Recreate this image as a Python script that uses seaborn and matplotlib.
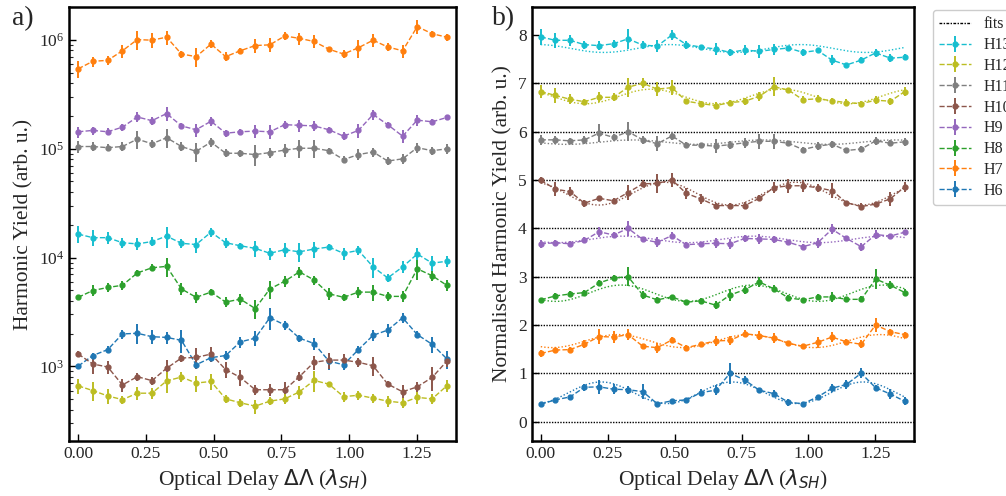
import numpy as np
import matplotlib
matplotlib.use('Agg')
import matplotlib.pyplot as plt
from matplotlib.lines import Line2D
import seaborn as sns

# optical delay (lambda_SH)
delay = [0.0, 0.054, 0.109, 0.163, 0.218, 0.272, 0.326, 0.381, 0.435, 0.490,
         0.544, 0.598, 0.653, 0.707, 0.762, 0.816, 0.870, 0.925, 0.979, 1.034,
         1.088, 1.142, 1.197, 1.251, 1.306, 1.360]

harmonics = ['H6', 'H7', 'H8', 'H9', 'H10', 'H11', 'H12', 'H13']

# peak yield of each harmonic (arb. u.)
peak_yield = [2800, 1.32e6, 8300, 2.1e5, 1300, 1.26e5, 800, 17100]

# yields normalised to the peak
h6_norm = [0.36, 0.45, 0.51, 0.71, 0.72, 0.67, 0.66, 0.62, 0.37, 0.43, 0.45, 0.60, 0.65,
           1.00, 0.86, 0.65, 0.58, 0.40, 0.37, 0.51, 0.69, 0.77, 1.00, 0.70, 0.57, 0.42]
h7_norm = [0.41, 0.48, 0.49, 0.60, 0.76, 0.75, 0.80, 0.56, 0.53, 0.69, 0.53, 0.60, 0.67,
           0.68, 0.82, 0.78, 0.73, 0.62, 0.56, 0.64, 0.75, 0.65, 0.60, 1.00, 0.86, 0.80]
h8_norm = [0.52, 0.60, 0.64, 0.67, 0.87, 0.97, 1.00, 0.62, 0.52, 0.58, 0.47, 0.50, 0.41,
           0.62, 0.73, 0.89, 0.75, 0.56, 0.52, 0.58, 0.58, 0.53, 0.53, 0.95, 0.82, 0.67]
h9_norm = [0.68, 0.70, 0.68, 0.75, 0.93, 0.86, 1.00, 0.77, 0.71, 0.85, 0.66, 0.68, 0.69,
           0.68, 0.79, 0.78, 0.77, 0.71, 0.62, 0.70, 0.98, 0.79, 0.62, 0.87, 0.84, 0.92]
h10_norm = [1.00, 0.81, 0.76, 0.52, 0.62, 0.57, 0.74, 0.92, 0.93, 1.00, 0.72, 0.61, 0.47,
            0.47, 0.47, 0.62, 0.84, 0.88, 0.88, 0.84, 0.78, 0.53, 0.45, 0.50, 0.61, 0.86]
h11_norm = [0.83, 0.83, 0.81, 0.83, 0.97, 0.88, 1.00, 0.83, 0.75, 0.91, 0.72, 0.72, 0.70,
            0.73, 0.77, 0.80, 0.80, 0.76, 0.63, 0.70, 0.74, 0.61, 0.64, 0.81, 0.76, 0.79]
h12_norm = [0.83, 0.75, 0.67, 0.62, 0.71, 0.71, 0.92, 1.00, 0.88, 0.91, 0.63, 0.58, 0.54,
            0.60, 0.63, 0.73, 0.93, 0.86, 0.66, 0.68, 0.64, 0.60, 0.58, 0.65, 0.63, 0.83]
h13_norm = [0.96, 0.89, 0.89, 0.80, 0.78, 0.82, 0.92, 0.79, 0.77, 1.00, 0.80, 0.75, 0.71,
            0.64, 0.69, 0.66, 0.70, 0.73, 0.64, 0.68, 0.48, 0.38, 0.48, 0.63, 0.52, 0.54]

# error bars (same normalisation)
h6_err = [0.02, 0.02, 0.04, 0.07, 0.15, 0.10, 0.08, 0.15, 0.03, 0.04, 0.04, 0.07, 0.10,
          0.22, 0.08, 0.05, 0.07, 0.07, 0.04, 0.04, 0.08, 0.10, 0.10, 0.05, 0.10, 0.08]
h7_err = [0.07, 0.05, 0.05, 0.08, 0.15, 0.12, 0.12, 0.04, 0.10, 0.06, 0.05, 0.04, 0.10,
          0.10, 0.07, 0.10, 0.10, 0.03, 0.05, 0.12, 0.10, 0.05, 0.08, 0.15, 0.06, 0.06]
h8_err = [0.02, 0.07, 0.06, 0.06, 0.06, 0.07, 0.20, 0.08, 0.06, 0.04, 0.05, 0.06, 0.08,
          0.12, 0.08, 0.10, 0.07, 0.07, 0.04, 0.07, 0.10, 0.05, 0.06, 0.20, 0.08, 0.08]
h9_err = [0.08, 0.06, 0.05, 0.06, 0.10, 0.07, 0.15, 0.05, 0.10, 0.08, 0.05, 0.04, 0.10,
          0.10, 0.07, 0.10, 0.08, 0.04, 0.05, 0.10, 0.10, 0.05, 0.08, 0.10, 0.05, 0.05]
h10_err = [0.07, 0.15, 0.10, 0.07, 0.05, 0.05, 0.15, 0.07, 0.20, 0.15, 0.12, 0.10, 0.05,
           0.06, 0.08, 0.06, 0.12, 0.15, 0.12, 0.08, 0.15, 0.03, 0.07, 0.05, 0.15, 0.10]
h11_err = [0.10, 0.08, 0.06, 0.08, 0.18, 0.08, 0.20, 0.08, 0.15, 0.08, 0.06, 0.05, 0.15,
           0.08, 0.10, 0.15, 0.15, 0.05, 0.05, 0.08, 0.07, 0.05, 0.07, 0.08, 0.06, 0.08]
h12_err = [0.13, 0.15, 0.10, 0.05, 0.10, 0.08, 0.20, 0.10, 0.15, 0.15, 0.05, 0.05, 0.08,
           0.05, 0.07, 0.10, 0.20, 0.04, 0.07, 0.07, 0.06, 0.07, 0.06, 0.08, 0.07, 0.10]
h13_err = [0.17, 0.15, 0.11, 0.08, 0.10, 0.08, 0.20, 0.08, 0.12, 0.10, 0.08, 0.04, 0.12,
           0.08, 0.10, 0.13, 0.12, 0.05, 0.08, 0.06, 0.10, 0.03, 0.06, 0.08, 0.08, 0.06]

norms = [h6_norm, h7_norm, h8_norm, h9_norm, h10_norm, h11_norm, h12_norm, h13_norm]
errs = [h6_err, h7_err, h8_err, h9_err, h10_err, h11_err, h12_err, h13_err]

sns.set_theme(style='ticks')
plt.rcParams['font.family'] = ['Liberation Serif', 'DejaVu Serif']
plt.rcParams['mathtext.fontset'] = 'dejavusans'
plt.rcParams['xtick.direction'] = 'in'
plt.rcParams['ytick.direction'] = 'in'

tab = sns.color_palette('tab10')
colors = [tab[0], tab[1], tab[2], tab[4], tab[5], tab[7], tab[8], tab[9]]

x = np.array(delay)
period = 0.49  # sinusoidal fit period
x_fit = np.linspace(0, x[-1], 200)

fig = plt.figure(figsize=(10.06, 4.96), dpi=100)
ax1 = fig.add_axes([0.0686, 0.111, 0.3847, 0.875])
ax2 = fig.add_axes([0.5285, 0.111, 0.380, 0.875])

handles = []
for i, (name, c) in enumerate(zip(harmonics, colors)):
    n = np.array(norms[i])
    e = np.array(errs[i])
    # a) absolute yields
    ax1.errorbar(x, n * peak_yield[i], yerr=e * peak_yield[i], color=c, ls='--', lw=1,
                 marker='o', ms=3.5, elinewidth=1.4)
    # b) normalised + offset
    h = ax2.errorbar(x, n + i, yerr=e, color=c, ls='--', lw=1, marker='o', ms=3.5,
                     elinewidth=1.4, label=name)
    handles.append(h)
    # sinusoidal fit
    A = np.column_stack([np.ones_like(x), np.cos(2 * np.pi * x / period), np.sin(2 * np.pi * x / period)])
    coef = np.linalg.lstsq(A, n, rcond=None)[0]
    Af = np.column_stack([np.ones_like(x_fit), np.cos(2 * np.pi * x_fit / period), np.sin(2 * np.pi * x_fit / period)])
    sns.lineplot(x=x_fit, y=Af @ coef + i, ax=ax2, color=c, lw=1, linestyle=(0, (1, 1.5)))

for lvl in range(8):
    ax2.axhline(lvl, color='black', lw=1, ls=(0, (1, 1)), zorder=0)

ax1.set_yscale('log')
ax1.set_ylim(2.07e2, 2.0e6)
ax2.set_ylim(-0.4, 8.58)
ax2.set_yticks(range(9))
for ax in (ax1, ax2):
    ax.set_xlim(-0.034, 1.394)
    ax.set_xticks([0, 0.25, 0.5, 0.75, 1.0, 1.25])
    ax.set_xticklabels(['0.00', '0.25', '0.50', '0.75', '1.00', '1.25'])
    ax.tick_params(labelsize=12.5, length=5, width=1, color='black')
    ax.tick_params(which='minor', length=3, width=0.8)
    for sp in ax.spines.values():
        sp.set_linewidth(1.8)
        sp.set_color('black')
    ax.set_xlabel(r'Optical Delay $\Delta\Lambda$ ($\lambda_{SH}$)', fontsize=15.5)

ax1.set_ylabel('Harmonic Yield (arb. u.)', fontsize=15.5)
ax2.set_ylabel('Normalised Harmonic Yield (arb. u.)', fontsize=15.5)

fig.text(0.012, 0.95, 'a)', fontsize=20)
fig.text(0.489, 0.95, 'b)', fontsize=20)

fits_handle = Line2D([], [], color='black', lw=1, ls=(0, (2, 1, 1, 1)))
ax2.legend([fits_handle] + handles[::-1], ['fits'] + harmonics[::-1],
           loc='upper left', bbox_to_anchor=(1.049, 0.993), fontsize=11.5,
           labelspacing=0.3, handlelength=2.0, handletextpad=0.8, borderpad=0.4,
           borderaxespad=0, framealpha=1, edgecolor='#cccccc')

fig.savefig('out.png', dpi=100)
